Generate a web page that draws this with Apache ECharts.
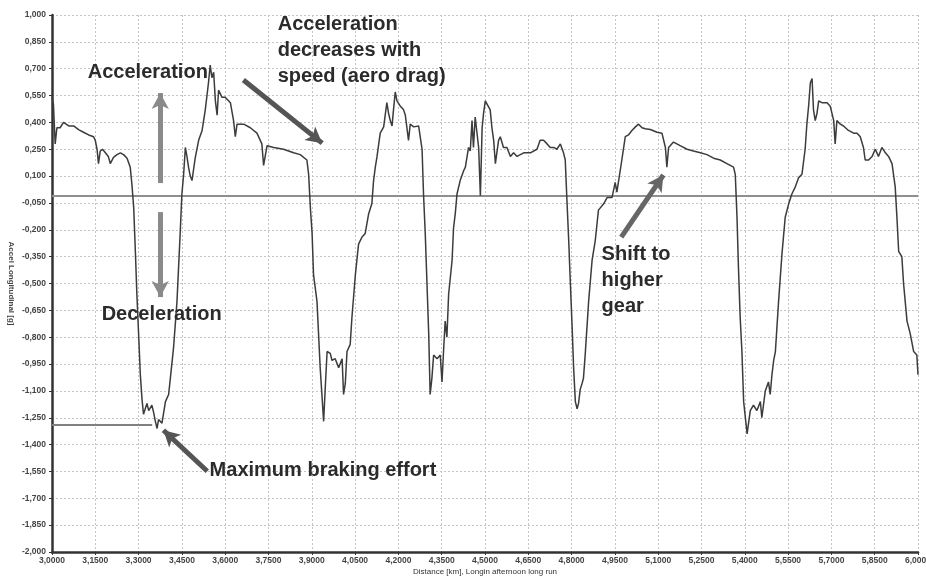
<!DOCTYPE html>
<html><head><meta charset="utf-8">
<script src="https://cdn.jsdelivr.net/npm/echarts@6/dist/echarts.min.js"></script>
<style>html,body{margin:0;padding:0;background:#fff}#c{width:926px;height:578px}</style>
</head><body><div id="c"></div>
<script>
// Distance [km]
const distance = [3.000,3.005,3.011,3.017,3.028,3.040,3.058,3.075,3.092,3.109,3.127,3.144,3.150,3.156,3.161,3.167,3.175,3.185,3.195,3.202,3.213,3.225,3.237,3.248,3.260,3.271,3.277,3.283,3.289,3.294,3.300,3.306,3.312,3.317,3.323,3.329,3.335,3.341,3.346,3.352,3.358,3.364,3.369,3.375,3.381,3.387,3.393,3.398,3.404,3.410,3.421,3.433,3.444,3.450,3.456,3.462,3.468,3.473,3.479,3.485,3.496,3.508,3.520,3.531,3.542,3.548,3.554,3.560,3.566,3.572,3.577,3.589,3.600,3.618,3.629,3.635,3.641,3.664,3.687,3.710,3.727,3.733,3.745,3.768,3.802,3.837,3.860,3.883,3.889,3.895,3.901,3.906,3.918,3.929,3.941,3.947,3.953,3.964,3.970,3.981,3.993,4.005,4.010,4.016,4.022,4.033,4.039,4.051,4.062,4.074,4.085,4.097,4.108,4.114,4.120,4.126,4.137,4.149,4.160,4.166,4.172,4.178,4.183,4.189,4.195,4.207,4.218,4.224,4.230,4.235,4.241,4.253,4.270,4.276,4.282,4.287,4.293,4.299,4.305,4.310,4.316,4.322,4.334,4.345,4.351,4.357,4.362,4.368,4.374,4.386,4.391,4.397,4.403,4.414,4.426,4.432,4.443,4.449,4.455,4.460,4.466,4.472,4.478,4.484,4.490,4.495,4.501,4.507,4.518,4.524,4.530,4.536,4.547,4.553,4.564,4.576,4.588,4.599,4.611,4.634,4.657,4.680,4.691,4.703,4.715,4.726,4.738,4.749,4.761,4.772,4.778,4.784,4.790,4.795,4.801,4.807,4.813,4.819,4.824,4.830,4.836,4.841,4.847,4.859,4.871,4.882,4.893,4.911,4.923,4.940,4.951,4.957,4.963,4.974,4.986,4.997,5.009,5.021,5.032,5.044,5.055,5.073,5.096,5.113,5.125,5.130,5.136,5.153,5.176,5.200,5.222,5.246,5.269,5.292,5.315,5.338,5.361,5.367,5.373,5.378,5.384,5.390,5.396,5.408,5.419,5.430,5.442,5.454,5.459,5.471,5.482,5.488,5.494,5.500,5.506,5.517,5.529,5.540,5.552,5.563,5.575,5.586,5.598,5.609,5.615,5.621,5.627,5.633,5.638,5.644,5.650,5.656,5.667,5.685,5.696,5.708,5.713,5.719,5.731,5.742,5.759,5.777,5.789,5.800,5.811,5.817,5.829,5.841,5.852,5.863,5.875,5.887,5.898,5.910,5.921,5.927,5.933,5.944,5.950,5.962,5.973,5.985,5.996,6.000];
// Accel Longitudinal [g]
const accel = [0.54,0.50,0.28,0.37,0.37,0.40,0.38,0.38,0.36,0.345,0.33,0.32,0.30,0.25,0.17,0.24,0.25,0.23,0.21,0.17,0.205,0.22,0.23,0.22,0.20,0.15,0.05,-0.075,-0.33,-0.56,-0.78,-1.01,-1.15,-1.23,-1.20,-1.17,-1.21,-1.20,-1.18,-1.22,-1.27,-1.31,-1.26,-1.25,-1.28,-1.22,-1.16,-1.17,-1.12,-1.03,-0.86,-0.60,-0.22,0.0,0.11,0.26,0.205,0.15,0.10,0.075,0.20,0.30,0.355,0.47,0.62,0.72,0.65,0.68,0.52,0.44,0.58,0.54,0.54,0.51,0.41,0.32,0.39,0.39,0.37,0.34,0.28,0.16,0.27,0.26,0.25,0.23,0.22,0.19,0.11,-0.075,-0.22,-0.45,-0.60,-0.97,-1.27,-1.07,-0.88,-0.89,-0.93,-0.92,-0.97,-0.92,-1.12,-1.06,-0.88,-0.84,-0.69,-0.45,-0.28,-0.24,-0.22,-0.11,-0.055,0.075,0.15,0.21,0.34,0.375,0.51,0.45,0.41,0.38,0.47,0.57,0.52,0.49,0.47,0.44,0.45,0.30,0.39,0.375,0.38,0.375,0.25,0.0,-0.22,-0.50,-0.78,-1.12,-1.03,-0.90,-0.92,-0.90,-1.05,-0.86,-0.71,-0.80,-0.56,-0.37,-0.19,-0.11,0.0,0.075,0.13,0.15,0.26,0.24,0.41,0.26,0.43,0.43,0.26,-0.01,0.37,0.45,0.52,0.51,0.47,0.37,0.30,0.17,0.30,0.32,0.26,0.26,0.21,0.23,0.21,0.23,0.23,0.25,0.30,0.30,0.28,0.26,0.26,0.25,0.28,0.23,0.19,-0.04,-0.26,-0.47,-0.71,-0.97,-1.16,-1.20,-1.17,-1.09,-1.06,-1.03,-0.90,-0.60,-0.37,-0.26,-0.09,-0.055,-0.02,-0.02,0.065,0.01,0.075,0.19,0.32,0.33,0.355,0.375,0.39,0.37,0.365,0.36,0.345,0.34,0.26,0.15,0.26,0.29,0.27,0.25,0.24,0.23,0.22,0.20,0.19,0.17,0.15,0.11,-0.13,-0.41,-0.69,-0.88,-1.16,-1.34,-1.21,-1.18,-1.21,-1.16,-1.25,-1.10,-1.05,-1.12,-1.01,-0.93,-0.88,-0.60,-0.33,-0.13,-0.055,0.0,0.04,0.09,0.11,0.25,0.39,0.49,0.62,0.645,0.47,0.41,0.45,0.52,0.51,0.51,0.49,0.41,0.28,0.41,0.39,0.38,0.355,0.34,0.34,0.32,0.26,0.19,0.19,0.21,0.25,0.21,0.26,0.23,0.21,0.17,0.04,-0.13,-0.32,-0.35,-0.50,-0.71,-0.78,-0.88,-0.90,-1.01];

const xMin = 3.0, xMax = 6.0, xStep = 0.15;
const yMin = -2.0, yMax = 1.0, yStep = 0.15;
const zeroLine = -0.01;
const maxBraking = -1.29;
const maxBrakingEnd = 3.347;

// annotation anchors in data coordinates
const notes = [
  {text: 'Acceleration', at: [3.124, 0.681]},
  {text: 'Deceleration', at: [3.172, -0.674]},
  {text: 'Acceleration\ndecreases with\nspeed (aero drag)', at: [3.782, 0.802]},
  {text: 'Maximum braking effort', at: [3.546, -1.543]},
  {text: 'Shift to\nhigher\ngear', at: [4.904, -0.481]}
];
const arrows = [
  {from: [3.375, 0.061], to: [3.375, 0.564], color: '#8a8a8a'},
  {from: [3.375, -0.101], to: [3.375, -0.576], color: '#8a8a8a'},
  {from: [3.663, 0.637], to: [3.936, 0.284], color: '#555'},
  {from: [3.538, -1.549], to: [3.386, -1.320], color: '#555'},
  {from: [4.972, -0.241], to: [5.118, 0.106], color: '#666'}
];

const chart = echarts.init(document.getElementById('c'), null, {renderer: 'canvas'});
const fmt = (v, d) => (Math.round(v * 10000) / 10000).toFixed(d).replace('.', ',');
const data = distance.map((d, i) => [d, accel[i]]);

chart.setOption({
  animation: false,
  backgroundColor: '#fff',
  grid: {left: 52, right: 8, top: 15, bottom: 26, containLabel: false, outerBoundsMode: 'none'},
  xAxis: {
    type: 'value', min: xMin, max: xMax, interval: xStep,
    name: 'Distance [km], Longin afternoon long run',
    nameLocation: 'middle', nameGap: 16, nameMoveOverlap: false,
    nameTextStyle: {fontFamily: 'Liberation Sans', fontSize: 8, color: '#333'},
    axisLine: {onZero: false, lineStyle: {color: '#333', width: 2.5}},
    axisTick: {show: true, length: 3, lineStyle: {color: '#333'}},
    axisLabel: {formatter: v => fmt(v, 4), fontFamily: 'Liberation Sans', fontWeight: 'bold', fontSize: 8.5, color: '#444', margin: 4},
    splitLine: {show: true, lineStyle: {color: '#c4c4c4', type: [2, 2], width: 1}}
  },
  yAxis: {
    type: 'value', min: yMin, max: yMax, interval: yStep,
    name: 'Accel Longitudinal [g]',
    nameLocation: 'middle', nameGap: 37, nameRotate: -90, nameMoveOverlap: false,
    nameTextStyle: {fontFamily: 'Liberation Sans', fontWeight: 'bold', fontSize: 8, color: '#444'},
    axisLine: {show: true, onZero: false, lineStyle: {color: '#333', width: 2.5}},
    axisTick: {show: true, length: 3, lineStyle: {color: '#333'}},
    axisLabel: {formatter: v => fmt(v, 3), fontFamily: 'Liberation Sans', fontWeight: 'bold', fontSize: 8.5, color: '#444', margin: 6},
    splitLine: {show: true, lineStyle: {color: '#c4c4c4', type: [2, 2], width: 1}}
  },
  series: [{
    type: 'line', data: data, showSymbol: false, symbol: 'none',
    lineStyle: {color: '#3c3c3c', width: 1.5},
    z: 5,
    markLine: {
      silent: true, symbol: ['none', 'none'], label: {show: false},
      data: [
        [{coord: [xMin, zeroLine], lineStyle: {color: '#8f8f8f', width: 2, type: 'solid'}}, {coord: [xMax, zeroLine]}],
        [{coord: [xMin, maxBraking], lineStyle: {color: '#808080', width: 2, type: 'solid'}}, {coord: [maxBrakingEnd, maxBraking]}]
      ]
    }
  }, {
    type: 'line', data: [], z: 10,
    markLine: {
      silent: true, symbol: ['none', 'arrow'], symbolSize: [13, 16], label: {show: false},
      data: arrows.map(a => [{coord: a.from, lineStyle: {color: a.color, width: 5, type: 'solid'}, itemStyle: {color: a.color}}, {coord: a.to}])
    }
  }]
});

const graphics = notes.map(n => {
  const p = chart.convertToPixel({gridIndex: 0}, n.at);
  return {
    type: 'text', x: p[0], y: p[1], z: 20,
    style: {
      text: n.text, fill: '#2b2b2b', font: 'bold 20px "Liberation Sans", Arial, sans-serif',
      textAlign: 'left', textVerticalAlign: 'middle', lineHeight: 26
    }
  };
});
chart.setOption({graphic: graphics});
</script></body></html>
